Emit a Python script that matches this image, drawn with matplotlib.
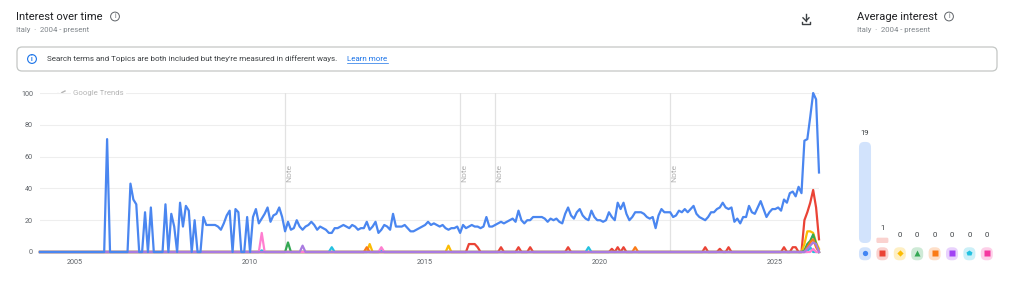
import numpy as np
import matplotlib
matplotlib.use("Agg")
import matplotlib.pyplot as plt
from matplotlib.patches import FancyBboxPatch, Circle
from matplotlib.lines import Line2D

plt.rcParams['font.family'] = ['Roboto', 'DejaVu Sans']

# monthly interest, Jan 2004 .. Apr 2026
blue = [
    0, 0, 0, 0, 0, 0, 0, 0, 0, 0, 0, 0,                 # 2004
    0, 0, 0, 0, 0, 0, 0, 0, 0, 0, 0, 71,                # 2005
    0, 0, 0, 0, 0, 0, 0, 43, 33, 30, 0, 0,              # 2006
    25, 0, 28, 0, 0, 0, 0, 30, 0, 24, 16, 0,            # 2007
    31, 16, 29, 26, 0, 20, 0, 0, 22, 17, 17, 17,        # 2008
    17, 16, 14, 18, 23, 26, 0, 27, 25, 0, 0, 22,        # 2009
    0, 22, 27, 18, 21, 24, 28, 19, 23, 24, 28, 22,      # 2010
    13, 19, 14, 15, 20, 16, 14, 16, 17, 19, 17, 14,     # 2011
    16, 15, 14, 12, 12, 15, 15, 16, 17, 16, 15, 17,     # 2012
    16, 14, 15, 15, 19, 14, 16, 19, 12, 14, 17, 16,     # 2013
    14, 24, 16, 16, 16, 17, 15, 13, 13, 14, 15, 16,     # 2014
    17, 19, 17, 18, 17, 16, 17, 15, 14, 15, 15, 16,     # 2015
    12, 17, 15, 16, 17, 16, 16, 15, 16, 22, 16, 16,     # 2016
    17, 18, 19, 18, 19, 20, 21, 19, 26, 20, 18, 20,     # 2017
    20, 22, 22, 22, 22, 21, 19, 21, 20, 21, 19, 18,     # 2018
    24, 28, 23, 21, 25, 27, 23, 21, 20, 26, 22, 20,     # 2019
    20, 19, 20, 25, 22, 20, 31, 27, 31, 24, 20, 22,     # 2020
    25, 25, 25, 24, 22, 21, 22, 15, 23, 27, 25, 25,     # 2021
    25, 22, 23, 26, 25, 27, 25, 27, 29, 24, 22, 21,     # 2022
    20, 22, 25, 25, 27, 28, 31, 28, 27, 28, 19, 21,     # 2023
    18, 22, 22, 29, 25, 24, 28, 32, 27, 22, 25, 27,     # 2024
    27, 28, 26, 33, 31, 37, 38, 35, 41, 37, 70, 71,     # 2025
    85, 100, 96, 50,                                    # 2026
]
n_months = len(blue)

# the other terms are zero except for a few small bumps (month index: value)
red_bumps = {147: 5, 148: 5, 149: 5, 150: 3, 158: 3, 164: 3, 168: 3, 181: 3,
             196: 2, 198: 3, 200: 3, 228: 3, 233: 2, 236: 3, 255: 3, 258: 3,
             259: 3, 262: 20, 263: 25, 264: 31, 265: 39, 266: 28, 267: 8}
yellow_bumps = {113: 5, 140: 4, 262: 5, 263: 13, 264: 13, 265: 12, 266: 6, 267: 2}
green_bumps = {85: 6, 262: 1, 263: 5, 264: 7, 265: 11, 266: 5}
orange_bumps = {112: 3, 204: 3, 263: 3, 264: 6, 265: 8, 266: 3}
purple_bumps = {90: 4, 263: 2, 264: 4, 265: 6, 266: 5}
cyan_bumps = {100: 3, 76: 1, 117: 1, 188: 3, 264: 3}
pink_bumps = {76: 12, 117: 3, 265: 2}

terms = ["blue", "red", "yellow", "green", "orange", "purple", "cyan", "pink"]
line_colors = ["#4a86f0", "#ea4335", "#fbbc04", "#34a853", "#fa7b17",
               "#a97be0", "#24c1e0", "#ff7ed0"]
tab_colors = ["#d2e3fc", "#fad2cf", "#feefc3", "#ceead6", "#fedfc8",
              "#e9d2fd", "#cbf0f8", "#fdcfe8"]
icon_colors = ["#4285f4", "#ea4335", "#fbbc04", "#34a853", "#fa7b17",
               "#a142f4", "#24c1e0", "#f538a0"]
icon_markers = ["o", "s", "D", "^", "s", "s", "p", "s"]
avg_interest = [19, 1, 0, 0, 0, 0, 0, 0]

x_ticks = [2005, 2010, 2015, 2020, 2025]
y_ticks = [0, 20, 40, 60, 80, 100]
note_years = [2011, 2016, 2017, 2022]


def series_from(bumps):
    s = np.zeros(n_months)
    for k, v in bumps.items():
        s[k] = v
    return s


years = 2004 + np.arange(n_months) / 12.0
series = [np.array(blue, float)] + [series_from(b) for b in
          (red_bumps, yellow_bumps, green_bumps, orange_bumps,
           purple_bumps, cyan_bumps, pink_bumps)]

W, H = 1024, 284
fig = plt.figure(figsize=(W / 100, H / 100), dpi=100)
fig.patch.set_facecolor("white")


def frac(x0, y0, x1, y1):
    # pixel box (top-left origin) -> figure fraction rect
    return [x0 / W, 1 - y1 / H, (x1 - x0) / W, (y1 - y0) / H]


# ---- main line chart
ax = fig.add_axes(frac(40, 93, 819, 252))
ax.set_xlim(2004, years[-1])
ax.set_ylim(0, 100)
for yv in y_ticks[1:]:
    ax.axhline(yv, color="#eeeeee", lw=0.8, zorder=0)
for ny in note_years:
    ax.axvline(ny, color="#e2e2e2", lw=0.9, zorder=0)
    ax.text(ny + 0.12, 50, "Note", rotation=90, ha="center", va="center",
            fontsize=6, color="#b0b0b0")

order = [1, 2, 3, 4, 6, 7, 0, 5]
for k in order:
    ax.plot(years, series[k], color=line_colors[k], lw=1.6, zorder=3 + (k == 0),
            clip_on=False, solid_joinstyle="round")

for s in ax.spines.values():
    s.set_visible(False)
ax.set_xticks(x_ticks)
ax.set_xticklabels([str(t) for t in x_ticks])
ax.set_yticks(y_ticks)
ax.tick_params(length=0, labelsize=5.2, colors="#5f6368", pad=5)
ax.tick_params(axis="x", pad=5)

# google trends watermark
ax.text(2004.95, 100, "Google Trends", fontsize=5.6, color="#b5b5b5",
        va="center", ha="left", bbox=dict(fc="white", ec="none", pad=1.5), zorder=5)

# ---- average interest bars
bx = fig.add_axes(frac(856.3, 243 - 133, 995.5, 243))
bx.set_xlim(-0.5, 7.5)
bx.set_ylim(0, 25)
bx.axis("off")
xs = np.arange(len(avg_interest))
bars = bx.bar(xs, avg_interest, width=0.69, color="none")
aspect = 17.4 / 5.32
for i, (b, v) in enumerate(zip(bars, avg_interest)):
    if v > 0:
        h = max(v, 0.8)
        r = 0.3 if v > 2 else 0.08
        bx.add_patch(FancyBboxPatch((b.get_x(), 0), b.get_width(), h,
                                    boxstyle=f"round,pad=0,rounding_size={r}",
                                    mutation_aspect=aspect, fc=tab_colors[i],
                                    ec="none", clip_on=False))
    lab_y = v + 1.2 if v > 0 else 0.9
    bx.text(xs[i], lab_y, str(v), ha="center", va="bottom", fontsize=5.6,
            color="#3c4043")
    bx.add_patch(FancyBboxPatch((xs[i] - 0.345, -3.25), 0.69, 2.45,
                                boxstyle="round,pad=0,rounding_size=0.3",
                                mutation_aspect=aspect, fc=tab_colors[i],
                                ec="none", clip_on=False))
    bx.plot(xs[i], -1.95, marker=icon_markers[i], color=icon_colors[i],
            ms=3.8 if icon_markers[i] != "D" else 3.2, clip_on=False, mec="none")

# ---- header decoration in pixel coordinates
ov = fig.add_axes([0, 0, 1, 1], zorder=-1)
ov.set_xlim(0, W)
ov.set_ylim(H, 0)
ov.axis("off")

ov.text(16, 17, "Interest over time", fontsize=8.0, color="#202124", va="center")
ov.text(16, 30, "Italy  ·  2004 - present", fontsize=5.6, color="#80868b", va="center")
ov.text(857, 17, "Average interest", fontsize=8.0, color="#202124", va="center")
ov.text(857, 30, "Italy  ·  2004 - present", fontsize=5.6, color="#80868b", va="center")

for cx in (115, 949):
    ov.add_patch(Circle((cx, 16.5), 4.4, fc="none", ec="#5f6368", lw=0.7))
    ov.text(cx, 16.8, "i", fontsize=4.7, color="#5f6368", ha="center", va="center")

# download icon
ov.add_line(Line2D([806, 806], [13.5, 20.5], color="#3c4043", lw=1.0))
ov.add_line(Line2D([803, 806, 809], [17.8, 20.8, 17.8], color="#3c4043", lw=1.0))
ov.add_line(Line2D([802, 802, 810, 810], [21.5, 24, 24, 21.5], color="#3c4043", lw=1.0))

# info banner
ov.add_patch(FancyBboxPatch((17, 47), 980, 24, boxstyle="round,pad=0,rounding_size=5",
                            fc="white", ec="#c4c7c5", lw=0.9))
ov.add_patch(Circle((32, 59), 4.4, fc="none", ec="#1a73e8", lw=0.8))
ov.text(32, 59.3, "i", fontsize=4.7, color="#1a73e8", ha="center", va="center",
        fontweight="bold")
ov.text(47, 59, "Search terms and Topics are both included but they're measured in different ways.",
        fontsize=5.8, color="#3c4043", va="center")
ov.text(347, 59, "Learn more", fontsize=5.8, color="#1a73e8", va="center")
ov.add_line(Line2D([347, 388], [63, 63], color="#1a73e8", lw=0.5))

# trend icon next to watermark
ov.add_line(Line2D([55, 58, 60, 62, 65], [96, 93.5, 95, 92.5, 91], color="#b5b5b5", lw=1.0))

fig.savefig("out.png", dpi=100, facecolor="white")
